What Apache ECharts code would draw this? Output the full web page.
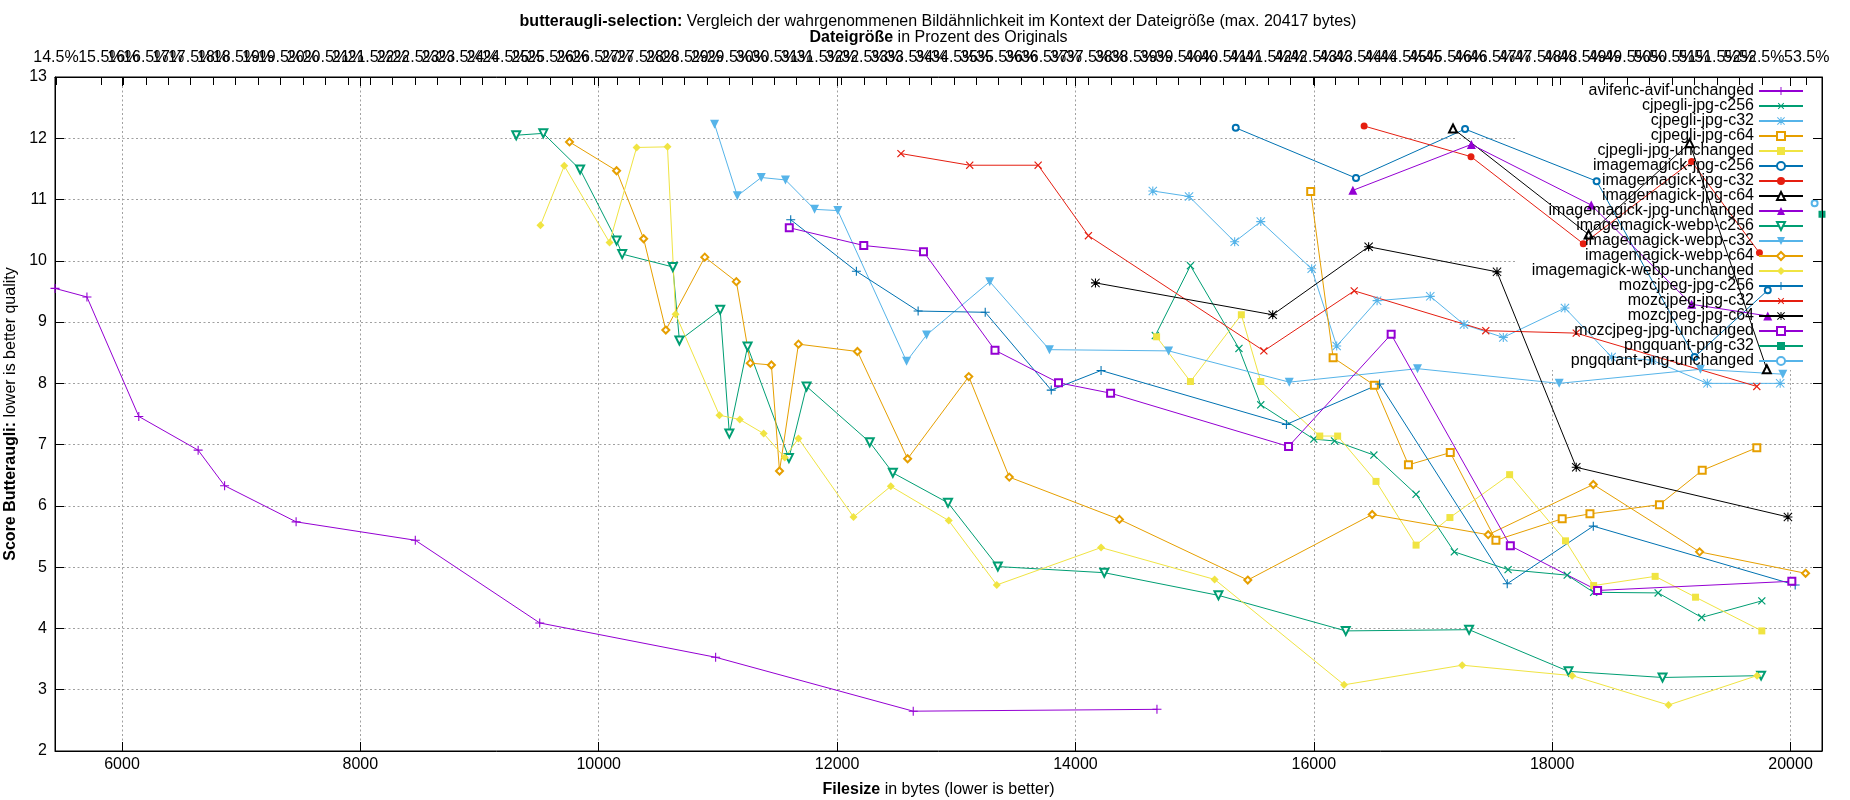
<!DOCTYPE html>
<html>
<head>
<meta charset="utf-8">
<title>butteraugli-selection</title>
<script src="https://cdn.jsdelivr.net/npm/echarts@6/dist/echarts.min.js"></script>
<style>
html, body { margin: 0; padding: 0; background: #fff; }
#chart { width: 1850px; height: 800px; }
</style>
</head>
<body>
<div id="chart"></div>
<script>
// values: [filesize in bytes, butteraugli score]
var avifencAvifUnchanged = [[5438, 9.55], [5706, 9.41], [6141, 7.46], [6639, 6.91], [6861, 6.33], [7461, 5.74], [8461, 5.44], [9505, 4.09], [10981, 3.53], [12639, 2.65], [14684, 2.68]];
var cjpegliJpgC256 = [[14670, 8.78], [14965, 9.92], [15372, 8.57], [15555, 7.65], [16000, 7.09], [16174, 7.06], [16504, 6.83], [16858, 6.19], [17179, 5.25], [17630, 4.96], [18126, 4.87], [18348, 4.59], [18889, 4.58], [19254, 4.18], [19759, 4.45]];
var cjpegliJpgC32 = [[14649, 11.14], [14953, 11.05], [15336, 10.31], [15555, 10.64], [15982, 9.87], [16192, 8.61], [16531, 9.35], [16977, 9.42], [17260, 8.96], [17590, 8.75], [18107, 9.23], [18499, 8.43], [18836, 8.38], [19302, 8.0], [19913, 8.0]];
var cjpegliJpgC64 = [[15974, 11.13], [16162, 8.42], [16508, 7.97], [16794, 6.67], [17145, 6.87], [17528, 5.44], [18084, 5.79], [18317, 5.87], [18900, 6.02], [19259, 6.58], [19717, 6.95]];
var cjpegliJpgUnchanged = [[14681, 8.76], [14965, 8.03], [15392, 9.12], [15555, 8.03], [16050, 7.14], [16200, 7.14], [16522, 6.40], [16858, 5.36], [17142, 5.81], [17643, 6.51], [18112, 5.43], [18348, 4.70], [18864, 4.85], [19203, 4.51], [19759, 3.96]];
var imagemagickJpgC256 = [[15345, 12.17], [16354, 11.35], [17269, 12.15], [18373, 11.30], [19195, 8.43], [19809, 9.52]];
var imagemagickJpgC32 = [[16422, 12.20], [17319, 11.70], [18261, 10.28], [19170, 11.62], [19739, 10.13]];
var imagemagickJpgC64 = [[17168, 12.16], [18306, 10.43], [19153, 11.92], [19801, 8.23]];
var imagemagickJpgUnchanged = [[16328, 11.15], [17322, 11.90], [18328, 10.91], [19170, 9.29], [19809, 9.10]];
var imagemagickWebpC256 = [[9308, 12.05], [9535, 12.08], [9844, 11.49], [10150, 10.33], [10197, 10.11], [10622, 9.90], [10677, 8.70], [11019, 9.20], [11096, 7.18], [11249, 8.60], [11596, 6.78], [11744, 7.95], [12274, 7.04], [12468, 6.54], [12931, 6.05], [13349, 5.01], [14242, 4.91], [15200, 4.54], [16268, 3.96], [17303, 3.98], [18137, 3.30], [18926, 3.20], [19753, 3.23]];
var imagemagickWebpC32 = [[10972, 12.23], [11163, 11.06], [11364, 11.36], [11567, 11.32], [11811, 10.84], [12006, 10.82], [12583, 8.36], [12751, 8.79], [13281, 9.66], [13782, 8.55], [14782, 8.53], [15794, 8.02], [16870, 8.24], [18059, 8.0], [19244, 8.23], [19935, 8.15]];
var imagemagickWebpC64 = [[9755, 11.94], [10150, 11.47], [10377, 10.36], [10563, 8.87], [10890, 10.06], [11155, 9.66], [11272, 8.33], [11449, 8.30], [11517, 6.57], [11676, 8.64], [12171, 8.52], [12592, 6.77], [13105, 8.11], [13445, 6.47], [14369, 5.78], [15446, 4.79], [16490, 5.86], [17463, 5.53], [18345, 6.35], [19237, 5.25], [20126, 4.90]];
var imagemagickWebpUnchanged = [[9511, 10.58], [9711, 11.55], [10091, 10.30], [10318, 11.85], [10577, 11.86], [10645, 9.13], [11013, 7.48], [11184, 7.41], [11384, 7.18], [11561, 6.79], [11676, 7.10], [12138, 5.82], [12451, 6.32], [12937, 5.76], [13340, 4.71], [14215, 5.32], [15168, 4.80], [16254, 3.08], [17245, 3.40], [18168, 3.23], [18976, 2.75], [19719, 3.23]];
var mozcjpegJpgC256 = [[11611, 10.67], [12162, 9.83], [12680, 9.18], [13243, 9.16], [13797, 7.89], [14215, 8.21], [15770, 7.33], [16552, 7.99], [17623, 4.73], [18345, 5.67], [20039, 4.71]];
var mozcjpegJpgC32 = [[12536, 11.75], [13113, 11.56], [13687, 11.56], [14109, 10.41], [15581, 8.53], [16339, 9.51], [17443, 8.86], [18202, 8.82], [19717, 7.95]];
var mozcjpegJpgC64 = [[14168, 9.64], [15655, 9.12], [16460, 10.23], [17537, 9.82], [18202, 6.63], [19978, 5.82]];
var mozcjpegJpgUnchanged = [[11599, 10.54], [12224, 10.25], [12725, 10.15], [13325, 8.54], [13858, 8.01], [14295, 7.84], [15788, 6.97], [16649, 8.80], [17649, 5.35], [18381, 4.62], [20011, 4.77]];
var pngquantPngC32 = [[20264, 10.76]];
var pngquantPngUnchanged = [[20202, 10.94]];

var seriesNames = [
    "avifenc-avif-unchanged", "cjpegli-jpg-c256", "cjpegli-jpg-c32", "cjpegli-jpg-c64", "cjpegli-jpg-unchanged",
    "imagemagick-jpg-c256", "imagemagick-jpg-c32", "imagemagick-jpg-c64", "imagemagick-jpg-unchanged",
    "imagemagick-webp-c256", "imagemagick-webp-c32", "imagemagick-webp-c64", "imagemagick-webp-unchanged",
    "mozcjpeg-jpg-c256", "mozcjpeg-jpg-c32", "mozcjpeg-jpg-c64", "mozcjpeg-jpg-unchanged",
    "pngquant-png-c32", "pngquant-png-unchanged"
];
var seriesData = [
    avifencAvifUnchanged, cjpegliJpgC256, cjpegliJpgC32, cjpegliJpgC64, cjpegliJpgUnchanged,
    imagemagickJpgC256, imagemagickJpgC32, imagemagickJpgC64, imagemagickJpgUnchanged,
    imagemagickWebpC256, imagemagickWebpC32, imagemagickWebpC64, imagemagickWebpUnchanged,
    mozcjpegJpgC256, mozcjpegJpgC32, mozcjpegJpgC64, mozcjpegJpgUnchanged,
    pngquantPngC32, pngquantPngUnchanged
];

// axis ticks
var xTickValues = [6000, 8000, 10000, 12000, 14000, 16000, 18000, 20000];
var percentTickValues = [14.5, 15, 15.5, 16, 16.5, 17, 17.5, 18, 18.5, 19, 19.5, 20, 20.5, 21, 21.5, 22, 22.5, 23, 23.5, 24, 24.5, 25, 25.5, 26, 26.5, 27, 27.5, 28, 28.5, 29, 29.5, 30, 30.5, 31, 31.5, 32, 32.5, 33, 33.5, 34, 34.5, 35, 35.5, 36, 36.5, 37, 37.5, 38, 38.5, 39, 39.5, 40, 40.5, 41, 41.5, 42, 42.5, 43, 43.5, 44, 44.5, 45, 45.5, 46, 46.5, 47, 47.5, 48, 48.5, 49, 49.5, 50, 50.5, 51, 51.5, 52, 52.5, 53, 53.5];
var xMin = 5438, xMax = 20264;
var percentMin = 14.478, percentMax = 53.841;
var yMin = 2, yMax = 13;

// gnuplot default line colours and point types
var palette = ["#9400d3", "#009e73", "#56b4e9", "#e69f00", "#f0e442", "#0072b2", "#e51e10", "#000000"];
var PLUS = "path://M44,0H56V44H100V56H56V100H44V56H0V44H44Z";
var STAR = "path://M44,0H56V44H100V56H56V100H44V56H0V44H44Z M8,0L50,42L92,0L100,8L58,50L100,92L92,100L50,58L8,100L0,92L42,50L0,8Z";
var pointTypes = [
    {symbol: PLUS, size: 9, rotate: 0, hollow: false},
    {symbol: PLUS, size: 10, rotate: 45, hollow: false},
    {symbol: STAR, size: 9, rotate: 0, hollow: false},
    {symbol: "emptyRect", size: 7, rotate: 0, hollow: true},
    {symbol: "rect", size: 7, rotate: 0, hollow: false},
    {symbol: "emptyCircle", size: 6, rotate: 0, hollow: true},
    {symbol: "circle", size: 7, rotate: 0, hollow: false},
    {symbol: "emptyTriangle", size: 8, rotate: 0, hollow: true},
    {symbol: "triangle", size: 9, rotate: 0, hollow: false},
    {symbol: "emptyTriangle", size: 8, rotate: 180, hollow: true},
    {symbol: "triangle", size: 9, rotate: 180, hollow: false},
    {symbol: "emptyDiamond", size: 7, rotate: 0, hollow: true},
    {symbol: "diamond", size: 8, rotate: 0, hollow: false}
];

var FONT = "Liberation Sans, Arial, sans-serif";
var boldRich = {b: {fontWeight: "bold", fontSize: 16, fontFamily: FONT, color: "#000"}};
var gridLine = {show: true, lineStyle: {color: "#a0a0a0", width: 1, type: [2, 2.5]}};

var series = seriesNames.map(function (name, i) {
    var c = palette[i % palette.length];
    var p = pointTypes[i % 13];
    return {
        name: name,
        type: "line",
        data: seriesData[i],
        xAxisIndex: 0,
        yAxisIndex: 0,
        symbol: p.symbol,
        symbolSize: p.size,
        symbolRotate: p.rotate,
        showSymbol: true,
        clip: false,
        lineStyle: {color: c, width: 1},
        itemStyle: {color: c, borderColor: c, borderWidth: p.hollow ? 1 : 0},
        emphasis: {disabled: true},
        animation: false,
        z: 2
    };
});

var chart = echarts.init(document.getElementById("chart"), null, {renderer: "canvas"});
chart.setOption({
    backgroundColor: "#fff",
    animation: false,
    textStyle: {fontFamily: FONT, color: "#000"},
    title: {
        text: "{b|butteraugli-selection:} Vergleich der wahrgenommenen Bildähnlichkeit im Kontext der Dateigröße (max. 20417 bytes)",
        left: 938,
        textAlign: "center",
        top: 14,
        padding: 0,
        textStyle: {fontSize: 16, fontWeight: "normal", color: "#000", fontFamily: FONT, rich: boldRich}
    },
    grid: {
        left: 55, right: 28, top: 77, bottom: 49,
        show: true, borderColor: "#000", borderWidth: 1, backgroundColor: "transparent",
        containLabel: false, outerBoundsMode: "none"
    },
    legend: {
        orient: "vertical",
        right: 46,
        top: 83,
        padding: 0,
        align: "right",
        itemWidth: 44,
        itemHeight: 10,
        itemGap: -1,
        selectedMode: false,
        textStyle: {fontSize: 16, fontFamily: FONT, color: "#000", lineHeight: 15},
        data: seriesNames
    },
    xAxis: [
        {
            type: "value", position: "bottom", min: xMin, max: xMax, splitNumber: 7,
            axisLine: {show: true, onZero: false, lineStyle: {color: "#000", width: 1}},
            axisTick: {show: true, inside: true, length: 9, customValues: xTickValues, lineStyle: {color: "#000"}},
            axisLabel: {customValues: xTickValues, margin: 6, fontSize: 16, fontFamily: FONT, color: "#000",
                formatter: function (v) { return v % 2000 === 0 ? String(v) : ""; }},
            splitLine: gridLine,
            name: "{b|Filesize} in bytes (lower is better)",
            nameLocation: "middle", nameGap: 31,
            nameTextStyle: {fontSize: 16, fontFamily: FONT, color: "#000", rich: boldRich}
        },
        {
            type: "value", position: "top", min: percentMin, max: percentMax, z: 3,
            axisLine: {show: true, onZero: false, lineStyle: {color: "#000", width: 1}},
            axisTick: {show: true, inside: true, length: 8, customValues: percentTickValues, lineStyle: {color: "#000"}},
            axisLabel: {customValues: percentTickValues, margin: 11, fontSize: 16, fontFamily: FONT, color: "#000",
                hideOverlap: false, showMinLabel: true, showMaxLabel: true,
                formatter: function (v) { return v + "%"; }},
            splitLine: {show: false},
            name: "{b|Dateigröße} in Prozent des Originals",
            nameLocation: "middle", nameGap: 30,
            nameTextStyle: {fontSize: 16, fontFamily: FONT, color: "#000", rich: boldRich}
        },
        {
            // mirrored byte ticks on the top border
            type: "value", position: "top", min: xMin, max: xMax, z: 3,
            axisLine: {show: false, onZero: false},
            axisTick: {show: true, inside: true, length: 9, customValues: xTickValues, lineStyle: {color: "#000"}},
            axisLabel: {show: false},
            splitLine: {show: false}
        }
    ],
    yAxis: [
        {
            type: "value", position: "left", min: yMin, max: yMax, interval: 1,
            axisLine: {show: true, onZero: false, lineStyle: {color: "#000", width: 1}},
            axisTick: {show: true, inside: true, length: 9, lineStyle: {color: "#000"}},
            axisLabel: {margin: 8, fontSize: 16, fontFamily: FONT, color: "#000"},
            splitLine: gridLine,
            name: "{b|Score Butteraugli:} lower is better quality",
            nameLocation: "middle", nameGap: 35, nameRotate: 90,
            nameTextStyle: {fontSize: 16, fontFamily: FONT, color: "#000", rich: boldRich}
        },
        {
            type: "value", position: "right", min: yMin, max: yMax, interval: 1, z: 3,
            axisLine: {show: true, onZero: false, lineStyle: {color: "#000", width: 1}},
            axisTick: {show: true, inside: true, length: 9, lineStyle: {color: "#000"}},
            axisLabel: {show: false},
            splitLine: {show: false}
        }
    ],
    graphic: [
        {
            // key box is opaque over the grid lines, like gnuplot's
            type: "rect", z: 1, silent: true,
            shape: {x: 1517, y: 78, width: 304, height: 292},
            style: {fill: "#fff"}
        }
    ],
    series: series
});
</script>
</body>
</html>
